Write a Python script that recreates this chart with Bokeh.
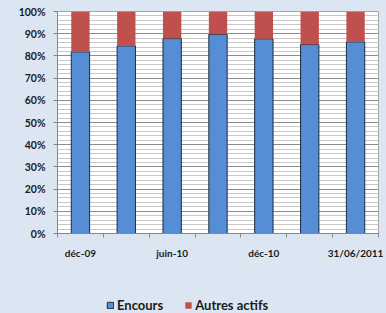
from bokeh.plotting import figure
from bokeh.layouts import column
from bokeh.models import (FixedTicker, SingleIntervalTicker, PrintfTickFormatter,
                          Legend, LegendItem, Range1d, ColumnDataSource)
from bokeh.embed import file_html
from bokeh.resources import INLINE

# ---- data (percent of total) ----
encours = [81.8, 84.5, 87.8, 89.7, 87.7, 85.1, 86.3]
autres_actifs = [18.2, 15.5, 12.2, 10.3, 12.3, 14.9, 13.7]
tick_labels = {1: "déc-09", 3: "juin-10", 5: "déc-10", 7: "31/06/2011"}
series_names = ["Encours", "Autres actifs"]

BG = "#dce6f2"
BLUE = "#558ed5"
RED = "#c0504d"
EDGE = "#1c2b3f"
FONT = "Lato"

x = list(range(1, len(encours) + 1))
src = ColumnDataSource(dict(x=x, enc=encours, aut=autres_actifs,
                            top2=[a + b for a, b in zip(encours, autres_actifs)]))

p = figure(width=386, height=290, output_backend="svg", toolbar_location=None,
           x_range=Range1d(0.5, len(x) + 0.5), y_range=Range1d(0, 100),
           min_border_left=57, min_border_right=8, min_border_top=11, min_border_bottom=57)
p.background_fill_color = "white"
p.border_fill_color = BG
p.outline_line_color = "#a6a6a6"

p.vbar(x="x", bottom=0, top="enc", width=0.4, source=src,
       fill_color=BLUE, line_color=EDGE, line_width=1)
p.vbar(x="x", bottom="enc", top="top2", width=0.4, source=src,
       fill_color=RED, line_color=None)

# y axis
p.yaxis.ticker = SingleIntervalTicker(interval=10, num_minor_ticks=5)
p.yaxis.formatter = PrintfTickFormatter(format="%d%%")
p.yaxis.axis_line_color = "#868686"
p.yaxis.major_tick_line_color = "#868686"
p.yaxis.major_tick_out = 4
p.yaxis.major_tick_in = 0
p.yaxis.minor_tick_line_color = None
p.yaxis.major_label_standoff = 8
p.yaxis.major_label_text_font = FONT
p.yaxis.major_label_text_font_style = "bold"
p.yaxis.major_label_text_font_size = "10.5px"
p.yaxis.major_label_text_color = "#1a1a1a"

# x axis
p.xaxis.ticker = FixedTicker(ticks=sorted(tick_labels.keys()),
                             minor_ticks=[i + 0.5 for i in range(0, len(x) + 1)])
p.xaxis.major_label_overrides = tick_labels
p.xaxis.axis_line_color = "#868686"
p.xaxis.major_tick_line_color = None
p.xaxis.minor_tick_line_color = "#868686"
p.xaxis.minor_tick_out = 4
p.xaxis.minor_tick_in = 0
p.xaxis.major_label_standoff = 7
p.xaxis.major_label_text_font = FONT
p.xaxis.major_label_text_font_style = "bold"
p.xaxis.major_label_text_font_size = "10px"
p.xaxis.major_label_text_color = "#1a1a1a"

# grids
p.xgrid.grid_line_color = None
p.ygrid.grid_line_color = "#8c8c8c"
p.ygrid.minor_grid_line_color = "#c8c8c8"

# ---- legend strip below the chart ----
lg = figure(width=386, height=23, output_backend="svg", toolbar_location=None,
            x_axis_type=None, y_axis_type=None, min_border=0,
            x_range=Range1d(0, 1), y_range=Range1d(0, 1))
lg.background_fill_color = BG
lg.border_fill_color = BG
lg.outline_line_color = None
# swatch glyphs with no drawable geometry (NaN): only their legend swatches show
nan = float("nan")
swatch = ColumnDataSource(dict(x=[nan], bottom=[nan], top=[nan]))
l_enc = lg.vbar(x="x", bottom="bottom", top="top", width=0.1, source=swatch,
                fill_color=BLUE, line_color=EDGE, line_width=1)
l_aut = lg.vbar(x="x", bottom="bottom", top="top", width=0.1, source=swatch,
                fill_color=RED, line_color=None)
legend = Legend(items=[LegendItem(label=series_names[0], renderers=[l_enc]),
                       LegendItem(label=series_names[1], renderers=[l_aut])],
                orientation="horizontal", location=(49, 0),
                glyph_width=8, glyph_height=8, label_standoff=3, spacing=21,
                padding=0, margin=0, label_height=12,
                background_fill_alpha=0, border_line_color=None,
                label_text_font=FONT, label_text_font_style="bold",
                label_text_font_size="13px", label_text_color="#1a1a1a")
lg.add_layout(legend)

layout = column(p, lg, spacing=0)
html = file_html(layout, INLINE)
html = html.replace("</head>", "<style>html,body{background:%s;}</style></head>" % BG, 1)
open("out.html", "w").write(html)
